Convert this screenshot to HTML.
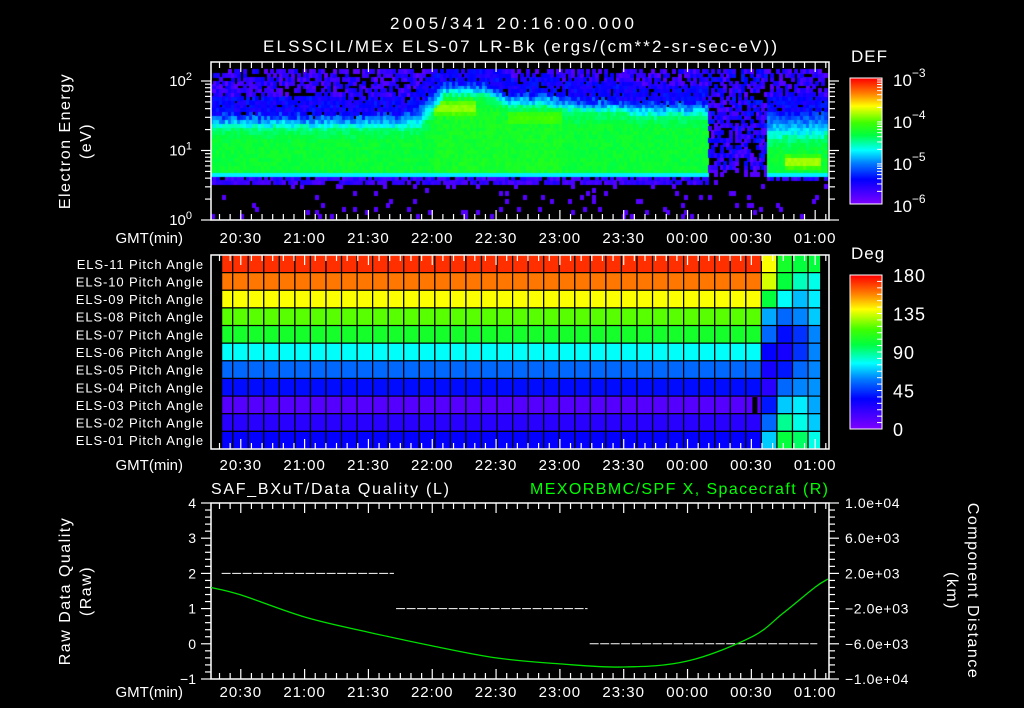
<!DOCTYPE html>
<html><head><meta charset="utf-8">
<style>
html,body{margin:0;padding:0;background:#000;}
#wrap{position:relative;width:1024px;height:708px;overflow:hidden;background:#000;}
svg{position:absolute;left:0;top:0;}
canvas{position:absolute;left:0;top:0;}
text{font-family:"Liberation Sans",sans-serif;fill:#fff;}
</style></head>
<body>
<div id="wrap">
<canvas id="spec" width="1024" height="708"></canvas>
<svg id="svg" width="1024" height="708">
<text x="390" y="29" font-size="17" textLength="244" lengthAdjust="spacing">2005/341 20:16:00.000</text>
<text x="263" y="52" font-size="17" textLength="514" lengthAdjust="spacing">ELSSCIL/MEx ELS-07 LR-Bk  (ergs/(cm**2-sr-sec-eV))</text>
<g transform="translate(70,141) rotate(-90)"><text x="0" y="0" font-size="16" text-anchor="middle" letter-spacing="1.5">Electron Energy</text><text x="0" y="21" font-size="16" text-anchor="middle" letter-spacing="1.5">(eV)</text></g>
<text x="851" y="62" font-size="17" letter-spacing="1">DEF</text>
<text x="851" y="259" font-size="17" letter-spacing="1">Deg</text>
<text x="211" y="494" font-size="16" textLength="238" lengthAdjust="spacing">SAF_BXuT/Data Quality (L)</text>
<text x="530" y="494" font-size="16" textLength="298" lengthAdjust="spacing" style="fill:#00ff00">MEXORBMC/SPF X, Spacecraft (R)</text>
<g transform="translate(70,591) rotate(-90)"><text x="0" y="0" font-size="16" text-anchor="middle" letter-spacing="1.5">Raw Data Quality</text><text x="0" y="21" font-size="16" text-anchor="middle" letter-spacing="1.5">(Raw)</text></g>
<g transform="translate(968,591) rotate(90)"><text x="0" y="0" font-size="16" text-anchor="middle" letter-spacing="1.5">Component Distance</text><text x="0" y="21" font-size="16" text-anchor="middle" letter-spacing="1.5">(km)</text></g>
<g id="g"></g>
</svg>
</div>
<script>
// ---------- data ----------
const timeTickLabels = ["20:30","21:00","21:30","22:00","22:30","23:00","23:30","00:00","00:30","01:00"];
const timeTickMinutes = [14,44,74,104,134,164,194,224,254,284]; // minutes since 20:16
// spectrogram segments (minutes since 20:16)
const segStart   = [0,   95,  104, 134, 164, 194, 233, 261];
const segLow     = [4,   4,   4,   4,   4,   4,   5,   4.2];
const segCoreTop = [20,  22,  60,  40,  35,  30,  0,   14];
const segCoreLvl = [-4.3,-4.3,-4.25,-4.25,-4.3,-4.3,-5.7,-4.3];
const segHaloTop = [30,  45,  85,  60,  50,  45,  0,   32];
const segBlobLo  = [0,   0,   28,  22,  0,   0,   0,   5];
const segBlobHi  = [0,   0,   55,  36,  0,   0,   0,   8.5];
const segBlobLvl = [0,   0,   -3.9,-4.05,0,  0,   0,   -3.85];
const segIsGap   = [0,   0,   0,   0,   0,   0,   1,   0];
const blobTStart = [0,0,104,140,0,0,0,270];
const blobTEnd   = [0,0,124,175,0,0,0,286];
// pitch angles (deg): rows ELS-11 .. ELS-01
const pitchRows = ["ELS-11","ELS-10","ELS-09","ELS-08","ELS-07","ELS-06","ELS-05","ELS-04","ELS-03","ELS-02","ELS-01"];
const pitchBase = [172,160,140,120,105,78,55,38,12,25,35];
const pitchLate = [
 [140,105,100,100,95],[135,100,85,80,95],[100,78,68,75,85],[65,55,60,70,75],[55,38,45,60,70],
 [35,30,45,60,65],[30,40,55,60,65],[25,55,60,62,65],[40,70,75,65,65],[55,90,80,70,70],[70,100,95,80,75]];
// data quality steps
const dqStart = [5, 87, 178];
const dqEnd   = [86, 177, 285];
const dqValue = [2, 1, 0];
// spacecraft X (km)
const scT = [0,14,44,74,104,134,164,194,224,254,269,284,290];
const scX = [400,-440,-2960,-4680,-6240,-7600,-8280,-8640,-7960,-5240,-2500,440,1360];
// ---------- geometry ----------
const X0=211, X1=829, TSPAN=290.5;
const tx = t => X0 + t*(X1-X0)/TSPAN;
const T1=62,B1=220; const ey = le => B1 - le*69.5;
const T2=255,B2=449;
const T3=503,B3=679; const qy = v => B3 - (v+1)*(B3-T3)/5; const ky = v => B3 - (v+1e4)*(B3-T3)/2e4;
const NS="http://www.w3.org/2000/svg"; const G=document.getElementById('g');
function el(tag,attrs,parent){const e=document.createElementNS(NS,tag);for(const k in attrs)e.setAttribute(k,attrs[k]);(parent||G).appendChild(e);return e;}
// colormap
const stops=[[0,[128,0,255]],[0.2,[0,0,255]],[0.33,[0,128,255]],[0.43,[0,255,255]],[0.55,[0,255,64]],[0.65,[64,255,0]],[0.78,[255,255,0]],[0.88,[255,128,0]],[1,[255,0,0]]];
function cmap(f){f=Math.max(0,Math.min(1,f));for(let i=1;i<stops.length;i++){if(f<=stops[i][0]){const a=stops[i-1],b=stops[i];const u=(f-a[0])/(b[0]-a[0]);const c=a[1].map((v,j)=>Math.round(v+(b[1][j]-v)*u));return 'rgb('+c.join(',')+')';}}return 'rgb(255,0,0)';}
function speckle(i,j){let h=Math.sin(i*127.1+j*311.7)*43758.5453;return h-Math.floor(h);}
function segOf(t){let s=0; for(let k=0;k<segStart.length;k++) if(t>=segStart[k]) s=k; return s;}
// ---------- spectrogram ----------
const ctx=document.getElementById('spec').getContext('2d');
const DT=1.4, DLE=0.055;
for(let t=0;t<289;t+=DT){
  const s=segOf(t);
  const lo=Math.log10(segLow[s]);
  // smooth band edges over neighbouring segments (non-gap)
  let ctS=0,htS=0,n=0;
  for(let w=-5;w<=5;w++){const q=segOf(Math.max(0,t+w)); if(segIsGap[q]) continue; ctS+=Math.log10(segCoreTop[q]); htS+=Math.log10(segHaloTop[q]); n++;}
  const ct=n?ctS/n:0, ht=n?htS/n:0;
  for(let le=0.02;le<2.16;le+=DLE){
    const i=Math.round(t/DT), j=Math.round(le/DLE); const r=speckle(i,j), r2=speckle(j+7,i+3);
    let lvl=null;
    if(segIsGap[s]){
      if(le>0.72){ if(r<0.6) lvl=-5.85+0.55*r2; }
      else if(le>0.6){ if(r<0.35) lvl=-5.8; }
      else if(r<0.04) lvl=-5.8;
    } else if(le<lo){
      if(le>lo-0.09){ if(r<0.75) lvl=-5.5-0.3*r2; }
      else if(r<0.05) lvl=-5.8;
    } else {
      const ctj=ct+0.06*(r-0.5), htj=ht+0.1*(r2-0.5);
      if(le<lo+0.04) lvl=-4.75;
      else if(le<ctj){ lvl=segCoreLvl[s]+0.14*(r2-0.5) - 0.15*Math.max(0,(le-(ctj-0.2))/0.2);
        if(segBlobHi[s]&&t>=blobTStart[s]&&t<=blobTEnd[s]&&le>=Math.log10(segBlobLo[s])&&le<=Math.log10(segBlobHi[s])){
          const mid=(Math.log10(segBlobLo[s])+Math.log10(segBlobHi[s]))/2, hw=(Math.log10(segBlobHi[s])-Math.log10(segBlobLo[s]))/2;
          const u=1-Math.abs(le-mid)/hw; lvl=lvl+(segBlobLvl[s]-lvl)*Math.min(1,u*1.6)+0.08*(r2-0.5);} }
      else if(le<htj){ const u=(le-ctj)/(htj-ctj); lvl=-4.5-0.75*u+0.15*(r2-0.5); }
      else if(le<htj+0.3){ if(r<0.85) lvl=-5.3-0.3*r2; }
      else { if(r<0.55) lvl=-5.85+0.4*r2; }
    }
    if(lvl===null) continue;
    ctx.fillStyle=cmap((lvl+6)/3);
    const x=tx(t), y=ey(le+DLE);
    ctx.fillRect(Math.floor(x),Math.floor(y),Math.ceil(tx(t+DT)-x)+1,Math.ceil(ey(le)-y)+1);
  }
}
// ---------- axes helpers ----------
function frame(top,bot,name){el('rect',{x:X0,y:top,width:X1-X0,height:bot-top,fill:'none',stroke:'#fff','stroke-width':1.5,});}
function timeTicks(top,bot,labY,name){
  const g=el('g',{});
  for(let m=4;m<=TSPAN;m+=5){const x=tx(m);const major=((m-14)%30===0);const L=major?10:6;
    el('line',{x1:x,x2:x,y1:bot,y2:bot-L,stroke:'#fff','stroke-width':1.2},g);
    el('line',{x1:x,x2:x,y1:top,y2:top+L,stroke:'#fff','stroke-width':1.2},g);}
  timeTickMinutes.forEach((m,i)=>{el('text',{x:tx(m),y:labY,'font-size':15,'text-anchor':'middle','letter-spacing':1},g).textContent=timeTickLabels[i];});
  el('text',{x:183,y:labY,'font-size':15,'text-anchor':'end',},g).textContent='GMT(min)';
}
// top panel
frame(T1,B1,'energy-panel-frame');
timeTicks(T1,B1,243,'energy-time-axis');
{const g=el('g',{});
 for(let d=0;d<3;d++)for(let m=1;m<10;m++){const le=d+Math.log10(m);if(le>2.28)break;const y=ey(le);const L=m===1?10:6;
  el('line',{x1:X0,x2:X0-L,y1:y,y2:y,stroke:'#fff','stroke-width':1.2},g);
  el('line',{x1:X1,x2:X1+L,y1:y,y2:y,stroke:'#fff','stroke-width':1.2},g);
  if(m===1){const t=el('text',{x:192,y:y+5,'font-size':15,'text-anchor':'end'},g);t.innerHTML='10<tspan dy="-6" font-size="11">'+d+'</tspan>';}}}
// DEF colorbar
{const g=el('g',{});
 const cT=78,cB=204;for(let y=cT;y<cB;y++) el('rect',{x:850,y:y,width:32,height:1.2,fill:cmap((cB-y)/(cB-cT))},g);
 el('rect',{x:850,y:cT,width:32,height:cB-cT,fill:'none',stroke:'#fff','stroke-width':1},g);
 for(let d=0;d<4;d++){const y=cB-d*(cB-cT)/3;for(let m=2;m<10&&d<3;m++){const yy=y-Math.log10(m)*(cB-cT)/3;el('line',{x1:882,x2:877,y1:yy,y2:yy,stroke:'#fff'},g);}
  const t=el('text',{x:893,y:y+8,'font-size':17},g);t.innerHTML='10<tspan dy="-9" font-size="12">−'+(6-d)+'</tspan>';}}
// middle panel (pitch)
{const g=el('g',{});
 const rh=(B2-T2)/11; const cw=15.55*TSPAN/(X1-X0); const tb=[5,10.2]; for(let k=1;k<=38;k++) tb.push(Math.min(10.2+k*cw,286.6));
 for(let c=0;c<tb.length-1;c++){ if(tb[c+1]<=tb[c]) break;
  for(let r=0;r<11;r++){const late=c-35; const v= late>=0 ? pitchLate[r][Math.min(late,4)] : pitchBase[r];
   const rc=el('rect',{x:tx(tb[c]),y:T2+r*rh,width:tx(tb[c+1])-tx(tb[c]),height:rh,fill:cmap(v/180),stroke:'#000','stroke-width':1.2},g);
   
   }}
 el('rect',{x:tx(tb[35])-9,y:T2+8*rh+1,width:5,height:rh-1,fill:'#000'},g);
 pitchRows.forEach((n,r)=>{el('text',{x:204,y:T2+r*rh+rh/2+5,'font-size':13,'text-anchor':'end','letter-spacing':0.9},g).textContent=n+' Pitch Angle';});}
frame(T2,B2,'pitch-panel-frame');
timeTicks(T2,B2,470,'pitch-time-axis');
{const g=el('g',{});
 const cT=275,cB=429;for(let y=cT;y<cB;y++) el('rect',{x:850,y:y,width:32,height:1.2,fill:cmap((cB-y)/(cB-cT))},g);
 el('rect',{x:850,y:cT,width:32,height:cB-cT,fill:'none',stroke:'#fff','stroke-width':1},g);
 for(let v=0;v<=180;v+=7.5){const y=cB-v/180*(cB-cT);el('line',{x1:882,x2:877,y1:y,y2:y,stroke:'#fff'},g);}
 [0,45,90,135,180].forEach(v=>{el('text',{x:893,y:cB-v/180*(cB-cT)+7,'font-size':18,'letter-spacing':1},g).textContent=String(v);});}
// bottom panel
frame(T3,B3,'quality-panel-frame');
timeTicks(T3,B3,697,'quality-time-axis');
{const g=el('g',{});
 for(let v=-1;v<=4.001;v+=0.2){const y=qy(v);const major=Math.abs(v-Math.round(v))<0.01;el('line',{x1:X0,x2:X0-(major?10:6),y1:y,y2:y,stroke:'#fff','stroke-width':1.2},g);
  if(major){el('text',{x:196,y:y+5,'font-size':14,'text-anchor':'end'},g).textContent=(Math.round(v)<0?'−':'')+Math.abs(Math.round(v));}}}
{const g=el('g',{});
 const labs=["−1.0e+04","−6.0e+03","−2.0e+03","2.0e+03","6.0e+03","1.0e+04"];
 for(let k=0;k<=25;k++){const v=-1e4+k*800;const y=ky(v);const major=k%5===0;el('line',{x1:X1,x2:X1+(major?10:6),y1:y,y2:y,stroke:'#fff','stroke-width':1.2},g);
  if(major) el('text',{x:845,y:y+5,'font-size':14,'letter-spacing':0.6},g).textContent=labs[k/5];}}
// data quality dashed steps
dqValue.forEach((v,i)=>{const l=el('line',{x1:tx(dqStart[i]),x2:tx(dqEnd[i]),y1:qy(v),y2:qy(v),stroke:'#fff','stroke-width':1,'stroke-dasharray':'9 1.5'});
 
 });
// spacecraft X curve (Catmull-Rom smoothed through data points)
{const P=scT.map((t,i)=>[tx(t),ky(scX[i])]);let d='M'+P[0][0].toFixed(1)+','+P[0][1].toFixed(1);
 for(let i=0;i<P.length-1;i++){const p0=P[Math.max(0,i-1)],p1=P[i],p2=P[i+1],p3=P[Math.min(P.length-1,i+2)];
  const c1=[p1[0]+(p2[0]-p0[0])/6,p1[1]+(p2[1]-p0[1])/6],c2=[p2[0]-(p3[0]-p1[0])/6,p2[1]-(p3[1]-p1[1])/6];
  d+='C'+c1.map(v=>v.toFixed(1)).join(',')+' '+c2.map(v=>v.toFixed(1)).join(',')+' '+p2.map(v=>v.toFixed(1)).join(',');}
 const p=el('path',{d:d,fill:'none',stroke:'#00e000','stroke-width':1.3});
 
 }
</script>
</body></html>
